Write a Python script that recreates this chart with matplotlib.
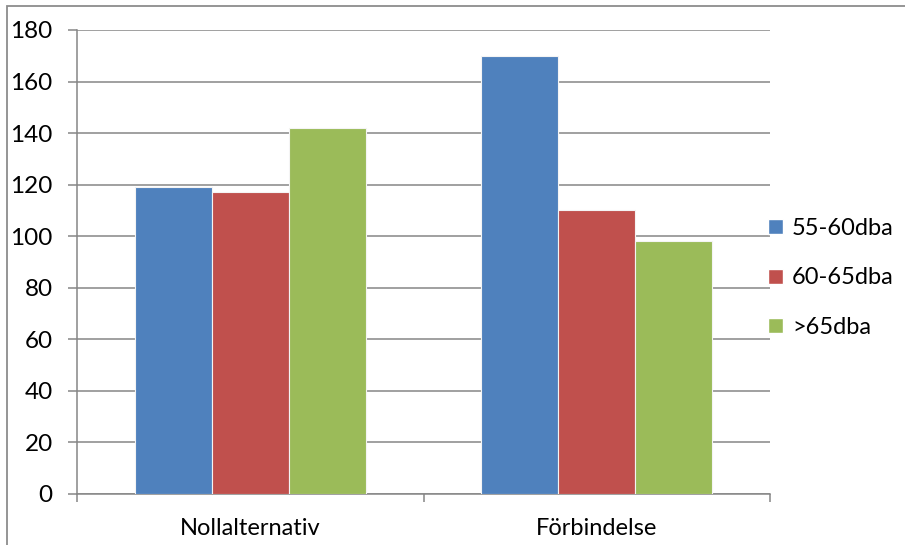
import numpy as np
import matplotlib.pyplot as plt
from matplotlib.patches import Rectangle, Patch

# categories and series
categories = ['Nollalternativ', 'Förbindelse']
series_names = ['55-60dba', '60-65dba', '>65dba']
vals_55_60 = [119, 170]
vals_60_65 = [117, 110]
vals_65 = [142, 98]
colors = ['#4F81BD', '#C0504D', '#9BBB59']
yticks = [0, 20, 40, 60, 80, 100, 120, 140, 160, 180]

plt.rcParams['font.family'] = ['Lato', 'DejaVu Sans']
grid_col = '#868686'

W, H = 905, 545
fig = plt.figure(figsize=(W / 100, H / 100), dpi=100)

# outer chart border (only top and left fall inside the canvas)
fig.patches.append(Rectangle((7 / W, -0.5), 1.2, 0.5 + (H - 6) / H,
                             transform=fig.transFigure,
                             fill=False, edgecolor='#8c8c8c', lw=1.3))

ax = fig.add_axes([77 / W, (H - 494) / H, (770 - 77) / W, (494 - 30) / H])

x = np.arange(len(categories))
w = 1 / 4.5
data = [vals_55_60, vals_60_65, vals_65]
for i, (vals, col) in enumerate(zip(data, colors)):
    ax.bar(x + (i - 1) * w, vals, width=w, color=col, edgecolor='#f4f4f4',
           linewidth=0.8, zorder=3)

ax.set_xlim(-0.5, len(categories) - 0.5)
ax.set_ylim(0, 180)
ax.set_yticks(yticks)
ax.tick_params(axis='y', length=6.5, width=1.1, color=grid_col, labelsize=17.5, pad=11)
ax.yaxis.grid(True, color=grid_col, lw=1.1, zorder=0)

# category ticks sit on the boundaries, labels in the middle
ax.set_xticks([-0.5, 0.5, 1.5])
ax.set_xticklabels([])
ax.set_xticks(x, minor=True)
ax.set_xticklabels(categories, minor=True)
ax.tick_params(axis='x', which='major', length=6, width=1.1, color=grid_col)
ax.tick_params(axis='x', which='minor', length=0, labelsize=17, pad=17)

for s in ['top', 'right']:
    ax.spines[s].set_visible(False)
for s in ['left', 'bottom']:
    ax.spines[s].set_color(grid_col)
    ax.spines[s].set_linewidth(1.1)

handles = [Patch(facecolor=c, edgecolor='white') for c in colors]
fig.legend(handles, series_names, loc='center left',
           bbox_to_anchor=(759 / W, (H - 278) / H), frameon=False,
           fontsize=17, handlelength=0.6, handleheight=0.6,
           handletextpad=0.4, labelspacing=1.2, borderaxespad=0)

fig.savefig('out.png', dpi=100)
